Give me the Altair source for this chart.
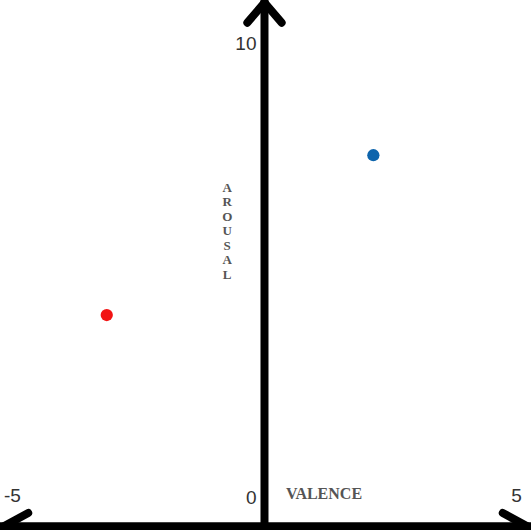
import altair as alt
import pandas as pd

# Data points (valence, arousal)
point_valence = [2.16, -3.13]
point_arousal = [7.55, 4.03]
point_color = ["#0d64ac", "#f21414"]

# Axis labels / tick labels
x_tick_values = [-5, 5]
x_tick_labels = ["-5", "5"]
y_tick_values = [0, 10]
y_tick_labels = ["0", "10"]
arousal_letters = ["A", "R", "O", "U", "S", "A", "L"]

# Scale domains (visible extent)
X_MIN, X_MAX = -5.248, 5.288
Y_MIN, Y_MAX = -0.705, 10.969
AXIS_Y = -0.62

xs = alt.Scale(domain=[X_MIN, X_MAX], nice=False, zero=False)
ys = alt.Scale(domain=[Y_MIN, Y_MAX], nice=False, zero=False)
noax = None

def X(field="x"):
    return alt.X(f"{field}:Q", scale=xs, axis=noax)

def Y(field="y"):
    return alt.Y(f"{field}:Q", scale=ys, axis=noax)

# Axis lines
axes_df = pd.DataFrame({
    "x": [0.0, X_MIN - 0.1],
    "y": [Y_MIN - 0.1, AXIS_Y],
    "x2": [0.0, X_MAX + 0.1],
    "y2": [Y_MAX, AXIS_Y],
})
axes = alt.Chart(axes_df).mark_rule(color="black", strokeWidth=8).encode(
    x=X("x"), y=Y("y"), x2="x2:Q", y2="y2:Q"
)

# Arrow heads
heads_df = pd.DataFrame({
    "x": [0.0, 0.0, X_MIN - 0.05, X_MAX + 0.05],
    "y": [Y_MAX - 0.06, Y_MAX - 0.06, -0.70, -0.70],
    "x2": [-0.34, 0.34, X_MIN + 0.56, X_MAX - 0.56],
    "y2": [Y_MAX - 0.5, Y_MAX - 0.5, -0.33, -0.33],
})
heads = alt.Chart(heads_df).mark_rule(color="black", strokeWidth=8, strokeCap="round").encode(
    x=X("x"), y=Y("y"), x2="x2:Q", y2="y2:Q"
)

# Tick labels
xt_df = pd.DataFrame({"x": x_tick_values, "y": [0.05, 0.05], "t": x_tick_labels})
xt = alt.Chart(xt_df).mark_text(
    font="Liberation Sans", fontSize=19, color="#333333", baseline="middle", align="center"
).encode(x=X("x"), y=Y("y"), text="t:N")

yt_df = pd.DataFrame({"x": [0.0, 0.0], "y": y_tick_values, "t": y_tick_labels})
yt = alt.Chart(yt_df).mark_text(
    font="Liberation Sans", fontSize=19, color="#333333", baseline="middle", align="right", dx=-8
).encode(x=X("x"), y=Y("y"), text="t:N")

# Axis titles
val_df = pd.DataFrame({"x": [1.18], "y": [0.09], "t": ["VALENCE"]})
val = alt.Chart(val_df).mark_text(
    font="Liberation Serif", fontSize=16, fontWeight="bold", color="#555555",
    baseline="middle", align="center"
).encode(x=X("x"), y=Y("y"), text="t:N")

aro_df = pd.DataFrame({
    "x": [-0.74] * len(arousal_letters),
    "y": [6.83 - i * 0.318 for i in range(len(arousal_letters))],
    "t": arousal_letters,
})
aro = alt.Chart(aro_df).mark_text(
    font="Liberation Serif", fontSize=13, fontWeight="bold", color="#555555",
    baseline="middle", align="center"
).encode(x=X("x"), y=Y("y"), text="t:N")

# Points
pts_df = pd.DataFrame({"x": point_valence, "y": point_arousal, "c": point_color})
pts = alt.Chart(pts_df).mark_circle(size=150, opacity=1).encode(
    x=X("x"), y=Y("y"), color=alt.Color("c:N", scale=None)
)

chart = alt.layer(axes, heads, xt, yt, val, aro, pts).properties(
    width=531, height=530,
    autosize=alt.AutoSizeParams(type="none"),
    padding=0,
    background="white",
).configure_view(stroke=None)

chart.save("out.html", embed_options={"renderer": "svg", "actions": False})
